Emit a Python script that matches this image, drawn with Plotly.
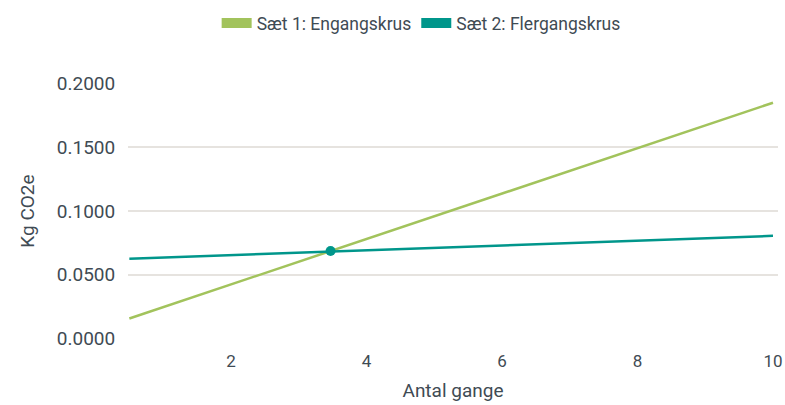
import plotly.graph_objects as go

# Data
x_points = [0.5, 10]
set1_values = [0.0156, 0.185]   # Sæt 1: Engangskrus
set2_values = [0.0625, 0.0805]  # Sæt 2: Flergangskrus
cross_x = [3.47]
cross_y = [0.0686]

series_names = ["Sæt 1: Engangskrus", "Sæt 2: Flergangskrus"]
x_ticks = [2, 4, 6, 8, 10]
y_ticks = [0, 0.05, 0.10, 0.15, 0.20]
y_tick_labels = ["0.0000", "0.0500", "0.1000", "0.1500", "0.2000"]

GREEN = "#a2c35c"
TEAL = "#00968b"
TEXT = "#3f4b54"
GRID = "#e6e3df"
FONT = "Roboto"

fig = go.Figure()
fig.add_trace(go.Scatter(x=x_points, y=set1_values, mode="lines",
                         line=dict(color=GREEN, width=2.5), showlegend=False,
                         hoverinfo="skip"))
fig.add_trace(go.Scatter(x=x_points, y=set2_values, mode="lines",
                         line=dict(color=TEAL, width=2.5), showlegend=False,
                         hoverinfo="skip"))
fig.add_trace(go.Scatter(x=cross_x, y=cross_y, mode="markers",
                         marker=dict(color=TEAL, size=10), showlegend=False))
# legend swatches
for name, col in zip(series_names, [GREEN, TEAL]):
    fig.add_trace(go.Scatter(x=[None], y=[None], mode="lines", name=name,
                             line=dict(color=col, width=10)))

fig.update_layout(
    width=785, height=405,
    margin=dict(l=128, r=7, t=83, b=66),
    paper_bgcolor="white", plot_bgcolor="white",
    font=dict(family=FONT, color=TEXT, size=17),
    legend=dict(orientation="h", x=0.451, xanchor="center", y=0.943, yanchor="middle",
                yref="container", font=dict(size=17.5, color=TEXT),
                itemwidth=30, tracegroupgap=0),
    xaxis=dict(range=[0.48, 10.074], tickvals=x_ticks, showgrid=False, zeroline=False,
               showline=False, ticks="outside", ticklen=7, tickcolor="rgba(0,0,0,0)",
               tickfont=dict(size=17, color=TEXT), ticklabeloverflow="allow",
               automargin=False,
               title=dict(text="Antal gange", font=dict(size=19, color=TEXT), standoff=13)),
    yaxis=dict(range=[-0.0005, 0.2005], tickvals=y_ticks, ticktext=y_tick_labels,
               showgrid=True, gridcolor=GRID, gridwidth=2, zeroline=False,
               showline=False, ticks="outside", ticklen=8, tickcolor="rgba(0,0,0,0)",
               tickfont=dict(size=19, color=TEXT), automargin=False,
               title=dict(text="Kg CO2e", font=dict(size=19, color=TEXT), standoff=17)),
)

fig.write_html("out.html", config={"displayModeBar": False},
               post_script="document.body.style.margin='0';document.body.style.overflow='hidden';")
